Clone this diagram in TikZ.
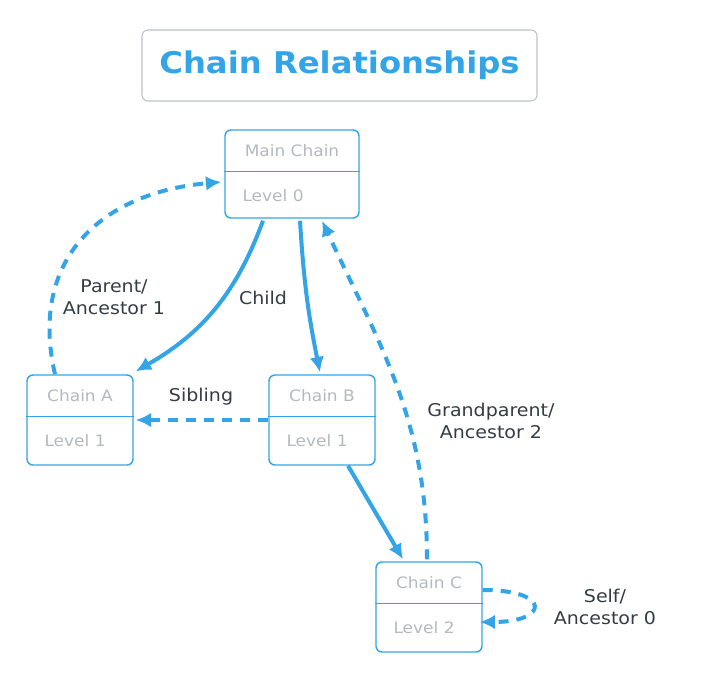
\documentclass[tikz,border=0pt]{standalone}
\usepackage{fontspec}
\setmainfont[FakeStretch=1.08]{DejaVu Sans}
\usetikzlibrary{arrows.meta,calc}
\definecolor{linkblue}{HTML}{33A5E6}
\definecolor{framegray}{HTML}{BCC2C7}
\definecolor{chaingray}{HTML}{B3B9BF}
\definecolor{labeldark}{HTML}{333C45}
\begin{document}
\begin{tikzpicture}[x=0.75pt,y=0.75pt,>={Latex[length=11.5pt,width=11pt]},
    chain/.style={draw=linkblue,line width=1.1pt,rounded corners=4.5pt,inner sep=0pt,minimum width=79.5pt,minimum height=67.5pt},
    chainname/.style={text=chaingray,font=\fontsize{11.8}{14}\selectfont,inner sep=0pt},
    chainlevel/.style={chainname,anchor=west},
    divider/.style={draw=linkblue,line width=0.9pt},
    link/.style={draw=linkblue,line width=3pt,->},
    ancestor/.style={link,dash pattern=on 7.5pt off 6pt},
    relation/.style={text=labeldark,align=center,font=\fontsize{13.2}{16.5}\selectfont,inner sep=0pt}]
    \useasboundingbox (0,0) rectangle (711,-690);
    % title
    \node[draw=framegray,line width=0.8pt,rounded corners=4.5pt,minimum width=296.25pt,minimum height=53.25pt,
      text=linkblue,font=\fontsize{22.4}{26}\selectfont\bfseries] (title) at (339.5,-65.5) {Chain Relationships};
    % chains
    \node[chain,minimum width=100.5pt,minimum height=66pt] (main) at (292,-174) {};
    \node[chain] (chainA) at (80,-420) {};
    \node[chain] (chainB) at (322,-420) {};
    \node[chain] (chainC) at (429,-607) {};
    \foreach \c/\name/\level in {main/Main Chain/Level 0,chainA/Chain A/Level 1,chainB/Chain B/Level 1,chainC/Chain C/Level 2}{
      \draw[divider] ($(\c.north west)+(0,-42)$) -- ($(\c.north east)+(0,-42)$);
      \node[chainname] (\c-name) at ($(\c.north)+(0,-21)$) {\name};
      \node[chainlevel] (\c-level) at ($(\c.north west)+(18,-66)$) {\level};
    }
    % relationships
    \draw[link] ($(main.south)+(-29,-2)$) to[bend left=20] ($(chainA.north east)+(2,3)$);
    \draw[link] ($(main.south)+(8,-2)$) to[bend right=4] ($(chainB.north)+(-2,2)$);
    \draw[link] ($(chainB.south)+(26,0)$) -- ($(chainC.north)+(-26,2)$);
    \draw[ancestor] ($(chainA.north)+(-25,0)$) to[out=103,in=185,looseness=1.2] ($(main.west)+(-3,-8)$);
    \draw[ancestor] (chainB.west) -- ($(chainA.east)+(2,0)$);
    \draw[ancestor] ($(chainC.north)+(-2,2)$) to[out=90,in=-65] ($(main.south)+(30,-2)$);
    \draw[ancestor] ($(chainC.east)+(0,17)$) to[out=0,in=0,looseness=5.5] ($(chainC.east)+(-3,-15)$);
    % labels
    \node[relation] (childLbl) at (263,-298) {Child};
    \node[relation] (parentLbl) at (114,-297) {Parent/\\Ancestor 1};
    \node[relation] (siblingLbl) at (201,-397) {Sibling};
    \node[relation] (grandLbl) at (491,-421) {Grandparent/\\Ancestor 2};
    \node[relation] (selfLbl) at (605,-607) {Self/\\Ancestor 0};
\end{tikzpicture}
\end{document}
